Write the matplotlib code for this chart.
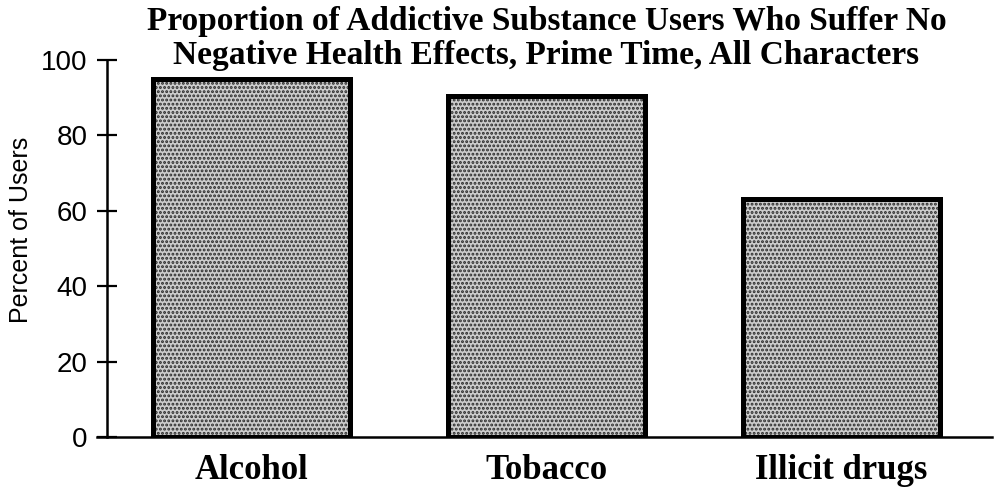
import matplotlib.pyplot as plt
import numpy as np

substances = ["Alcohol", "Tobacco", "Illicit drugs"]
pct_no_effects = [95, 90.5, 63]
y_ticks = [0, 20, 40, 60, 80, 100]
title_text = ("Proportion of Addictive Substance Users Who Suffer No\n"
              "Negative Health Effects, Prime Time, All Characters")

serif = ["Liberation Serif", "DejaVu Serif"]
sans = ["Liberation Sans", "DejaVu Sans"]

plt.rcParams["hatch.linewidth"] = 1.4

fig = plt.figure(figsize=(9.97, 4.96), dpi=100)
ax = fig.add_axes([0.1073, 0.119, 0.8877, 0.760])

x = np.arange(len(substances))

# halftone fill, then heavy outline on top
ax.bar(x, pct_no_effects, width=0.67, color="#cccccc", edgecolor="#2a2a2a",
       hatch="....", linewidth=0, zorder=2)
ax.bar(x, pct_no_effects, width=0.67, fill=False, edgecolor="black",
       linewidth=3.6, zorder=3)

ax.set_xlim(-0.49, 2.51)
ax.set_ylim(0, 100)
ax.set_yticks(y_ticks)
ax.set_yticklabels([str(t) for t in y_ticks], fontsize=20, family=sans)
ax.set_xticks(x)
ax.set_xticklabels(substances, fontsize=25, family=serif, fontweight="bold")

ax.tick_params(axis="y", direction="inout", length=14, width=1.6, pad=7)
ax.tick_params(axis="x", length=0, pad=12)

for side in ["top", "right"]:
    ax.spines[side].set_visible(False)
ax.spines["left"].set_linewidth(1.8)
ax.spines["bottom"].set_linewidth(1.8)
ax.spines["bottom"].set_bounds(-0.525, 2.51)

ax.set_ylabel("Percent of Users", fontsize=18, family=sans)
ax.yaxis.set_label_coords(-0.084, 0.55)

fig.text(0.548, 0.988, title_text, ha="center", va="top", fontsize=24,
         family=serif, fontweight="bold", linespacing=1.12)

fig.savefig("out.png", dpi=100)
